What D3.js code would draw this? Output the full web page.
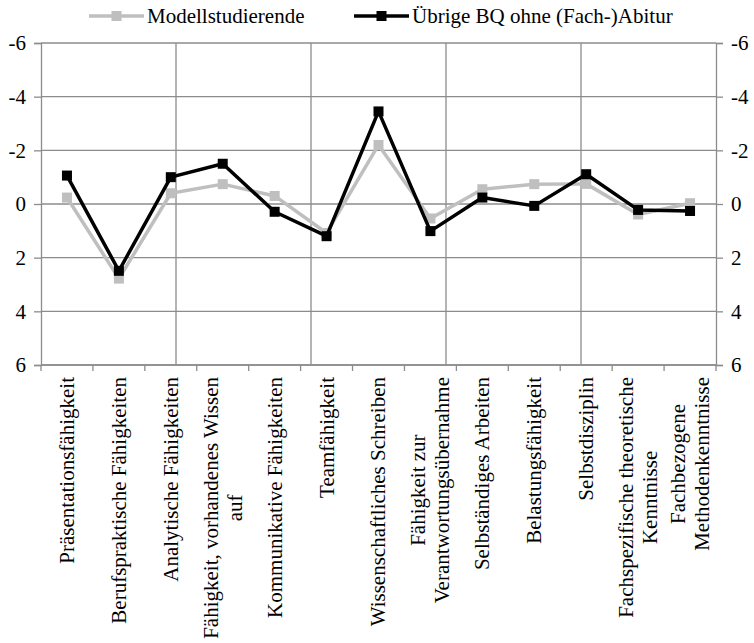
<!DOCTYPE html>
<html>
<head>
<meta charset="utf-8">
<script src="https://cdn.jsdelivr.net/npm/d3@7"></script>
<style>
  body { margin: 0; background: #fff; }
  svg { display: block; }
</style>
</head>
<body>
<div id="chart"></div>
<script>
// categories (line breaks as in the original labels)
const categories = [
    ["Präsentationsfähigkeit"],
    ["Berufspraktische Fähigkeiten"],
    ["Analytische Fähigkeiten"],
    ["Fähigkeit, vorhandenes Wissen", "auf"],
    ["Kommunikative Fähigkeiten"],
    ["Teamfähigkeit"],
    ["Wissenschaftliches Schreiben"],
    ["Fähigkeit zur", "Verantwortungsübernahme"],
    ["Selbständiges Arbeiten"],
    ["Belastungsfähigkeit"],
    ["Selbstdisziplin"],
    ["Fachspezifische theoretische", "Kenntnisse"],
    ["Fachbezogene", "Methodenkenntnisse"]
];

const modellstudierende = [-0.24, 2.78, -0.4, -0.74, -0.3, 1.08, -2.2, 0.54, -0.55, -0.74, -0.75, 0.39, -0.03];
const uebrigeBQ = [-1.06, 2.49, -1.0, -1.5, 0.29, 1.2, -3.45, 1.01, -0.24, 0.07, -1.11, 0.22, 0.26];

const seriesNames = ["Modellstudierende", "Übrige BQ ohne (Fach-)Abitur"];
const seriesColors = ["#bfbfbf", "#000000"];

const yTicks = [-6, -4, -2, 0, 2, 4, 6];
const vGrid = [1, 2, 3, 4]; // vertical gridlines, in fifths of the plot width

const width = 754, height = 643;
const margin = {top: 43, right: 38, bottom: 278, left: 41};
const gridColor = "#8c8c8c";
const serif = "Liberation Serif";
const fontSize = 21;

// set the font straight on each text element
function serifText(sel, size = fontSize) {
    return sel.attr("font-family", serif).attr("font-size", size).attr("fill", "#000");
}

const svg = d3.select("#chart").append("svg")
    .attr("width", width)
    .attr("height", height);

const x = d3.scaleBand()
    .domain(d3.range(categories.length))
    .range([margin.left, width - margin.right]);

const y = d3.scaleLinear()
    .domain([-6, 6])
    .range([margin.top, height - margin.bottom]);

const xFifth = d3.scaleLinear()
    .domain([0, 5])
    .range([margin.left, width - margin.right]);

// horizontal gridlines
svg.append("g")
    .selectAll("line")
    .data(yTicks)
    .join("line")
    .attr("x1", margin.left)
    .attr("x2", width - margin.right)
    .attr("y1", d => y(d))
    .attr("y2", d => y(d))
    .attr("stroke", gridColor)
    .attr("stroke-width", 1.3);

// vertical gridlines
svg.append("g")
    .selectAll("line")
    .data(vGrid)
    .join("line")
    .attr("x1", d => xFifth(d))
    .attr("x2", d => xFifth(d))
    .attr("y1", margin.top)
    .attr("y2", height - margin.bottom)
    .attr("stroke", gridColor)
    .attr("stroke-width", 1.3);

// left and right y axes
const yAxisL = svg.append("g")
    .attr("transform", `translate(${margin.left},0)`)
    .call(d3.axisLeft(y).tickValues(yTicks).tickSize(7).tickPadding(8).tickFormat(d3.format("d")));
const yAxisR = svg.append("g")
    .attr("transform", `translate(${width - margin.right},0)`)
    .call(d3.axisRight(y).tickValues(yTicks).tickSize(7).tickPadding(8).tickFormat(d3.format("d")));

[yAxisL, yAxisR].forEach(g => {
    g.select(".domain").attr("stroke", gridColor).attr("stroke-width", 1.3);
    g.selectAll(".tick line").attr("stroke", gridColor).attr("stroke-width", 1.3);
    g.selectAll(".tick text")
        .call(serifText)
        .text(d => d < 0 ? "-" + Math.abs(d) : d);
});

// x axis with ticks at category boundaries
const xBottom = height - margin.bottom;
svg.append("line")
    .attr("x1", margin.left)
    .attr("x2", width - margin.right)
    .attr("y1", xBottom)
    .attr("y2", xBottom)
    .attr("stroke", gridColor)
    .attr("stroke-width", 1.3);

svg.append("g")
    .selectAll("line")
    .data(d3.range(categories.length + 1))
    .join("line")
    .attr("x1", i => i < categories.length ? x(i) : x(i - 1) + x.bandwidth())
    .attr("x2", i => i < categories.length ? x(i) : x(i - 1) + x.bandwidth())
    .attr("y1", xBottom)
    .attr("y2", xBottom + 6)
    .attr("stroke", gridColor)
    .attr("stroke-width", 1.3);

// rotated category labels, lines centred, longest line starts under the axis
const labelTop = xBottom + 12;
const lineH = 24;
const labels = svg.append("g")
    .selectAll("g")
    .data(categories)
    .join("g");

labels.each(function (lines, i) {
    const g = d3.select(this);
    const texts = g.selectAll("text")
        .data(lines)
        .join("text")
        .call(serifText, 21)
        .attr("text-anchor", "middle")
        .attr("y", (d, j) => (j - (lines.length - 1) / 2) * lineH)
        .attr("dy", "0.33em")
        .text(d => d);
    let maxLen = 0;
    texts.each(function () { maxLen = Math.max(maxLen, this.getComputedTextLength()); });
    texts.attr("x", -maxLen / 2);
    g.attr("transform", `translate(${x(i) + x.bandwidth() / 2},${labelTop}) rotate(-90)`);
});

// series lines and square markers
const series = [modellstudierende, uebrigeBQ];
const line = d3.line()
    .x((d, i) => x(i) + x.bandwidth() / 2)
    .y(d => y(d));

series.forEach((values, s) => {
    svg.append("path")
        .datum(values)
        .attr("fill", "none")
        .attr("stroke", seriesColors[s])
        .attr("stroke-width", 3.5)
        .attr("stroke-linejoin", "round")
        .attr("d", line);

    svg.append("g")
        .selectAll("rect")
        .data(values)
        .join("rect")
        .attr("x", (d, i) => x(i) + x.bandwidth() / 2 - 5)
        .attr("y", d => y(d) - 5)
        .attr("width", 10)
        .attr("height", 10)
        .attr("fill", seriesColors[s]);
});

// legend
const legendY = 16;
const legendItems = [{x: 89}, {x: 354}];
const legend = svg.append("g")
    .selectAll("g")
    .data(seriesNames)
    .join("g")
    .attr("transform", (d, i) => `translate(${legendItems[i].x},${legendY})`);

legend.append("line")
    .attr("x1", 0)
    .attr("x2", 55)
    .attr("stroke", (d, i) => seriesColors[i])
    .attr("stroke-width", 3.5);

legend.append("rect")
    .attr("x", 27.5 - 5)
    .attr("y", -5)
    .attr("width", 10)
    .attr("height", 10)
    .attr("fill", (d, i) => seriesColors[i]);

legend.append("text")
    .call(serifText)
    .attr("x", 58)
    .attr("dy", "0.33em")
    .text(d => d);
</script>
</body>
</html>
